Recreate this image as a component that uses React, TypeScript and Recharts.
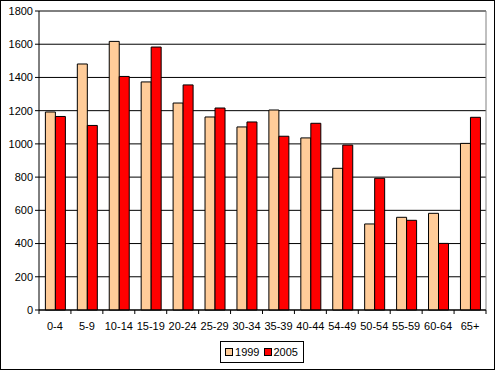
import React from 'react';
import { BarChart, Bar, XAxis, YAxis, CartesianGrid, ReferenceLine, Legend } from 'recharts';

// age groups, as labelled in the original (including the "54-49" typo)
const categories = ['0-4', '5-9', '10-14', '15-19', '20-24', '25-29', '30-34', '35-39', '40-44', '54-49', '50-54', '55-59', '60-64', '65+'];
const values1999 = [1192, 1481, 1617, 1373, 1246, 1162, 1102, 1204, 1036, 853, 518, 558, 582, 1003];
const values2005 = [1165, 1111, 1406, 1583, 1355, 1216, 1132, 1046, 1124, 993, 793, 540, 401, 1160];
const yTicks = [0, 200, 400, 600, 800, 1000, 1200, 1400, 1600, 1800];

const COLORS: Record<string, string> = {
  '1999': '#FFCC99',
  '2005': '#FF0000',
};

const W = 495;
const H = 370;
const MARGIN = { top: 11, right: 9, left: 0, bottom: 2 };
const Y_WIDTH = 39;
const PLOT_W = W - MARGIN.left - MARGIN.right - Y_WIDTH;
const BAND = PLOT_W / categories.length;
const FONT = '"Liberation Sans", Arial, sans-serif';

const data = categories.map((c, i) => ({
  age: c,
  '1999': values1999[i],
  '2005': values2005[i],
}));

// Excel style: tick marks sit between categories, label in the middle
const AgeTick = (props: any) => {
  const { x, y, payload, index } = props;
  const last = index === categories.length - 1;
  return (
    <g>
      <line x1={x - BAND / 2} y1={y} x2={x - BAND / 2} y2={y + 4} stroke="#000" />
      {last && <line x1={x + BAND / 2} y1={y} x2={x + BAND / 2} y2={y + 4} stroke="#000" />}
      <text x={x} y={y + 20} textAnchor="middle" fontSize={11} fontFamily={FONT} fill="#000">
        {payload.value}
      </text>
    </g>
  );
};

const LegendBox = () => (
  <div style={{ display: 'flex', justifyContent: 'center', paddingLeft: 38, paddingTop: 3 }}>
    <div
      style={{
        border: '1px solid #000',
        display: 'flex',
        alignItems: 'center',
        padding: '3px 5px 3px 4px',
        fontFamily: FONT,
        fontSize: 11,
        height: 14,
        background: '#fff',
      }}
    >
      {Object.keys(COLORS).map((k, i) => (
        <span key={k} style={{ display: 'flex', alignItems: 'center', marginLeft: i ? 4 : 0 }}>
          <span style={{ width: 6, height: 6, border: '1px solid #000', background: COLORS[k], marginRight: 2 }} />
          {k}
        </span>
      ))}
    </div>
  </div>
);

export default function App() {
  return (
    <div
      style={{
        position: 'absolute',
        left: 0,
        top: 0,
        width: W,
        height: H,
        border: '1px solid #000',
        boxSizing: 'border-box',
        background: '#fff',
      }}
    >
      <div style={{ position: 'absolute', left: -1, top: -1 }}>
        <BarChart width={W} height={H} data={data} margin={MARGIN} barCategoryGap="20%" barGap={0}>
          <CartesianGrid vertical={false} stroke="#000" />
          <ReferenceLine y={1800} stroke="#808080" />
          <ReferenceLine x="65+" position="end" stroke="#808080" />
          <XAxis
            dataKey="age"
            interval={0}
            tickLine={false}
            tickSize={0}
            tickMargin={0}
            height={28}
            axisLine={{ stroke: '#000' }}
            tick={<AgeTick />}
          />
          <YAxis
            width={Y_WIDTH}
            domain={[0, 1800]}
            ticks={yTicks}
            interval={0}
            tickSize={4}
            tickMargin={2}
            axisLine={{ stroke: '#000' }}
            tickLine={{ stroke: '#000' }}
            tick={{ fontSize: 11, fontFamily: FONT, fill: '#000' }}
          />
          <Legend verticalAlign="bottom" height={30} content={<LegendBox />} />
          {Object.keys(COLORS).map((k) => (
            <Bar key={k} dataKey={k} fill={COLORS[k]} stroke="#000" strokeWidth={1} isAnimationActive={false} />
          ))}
        </BarChart>
      </div>
    </div>
  );
}
